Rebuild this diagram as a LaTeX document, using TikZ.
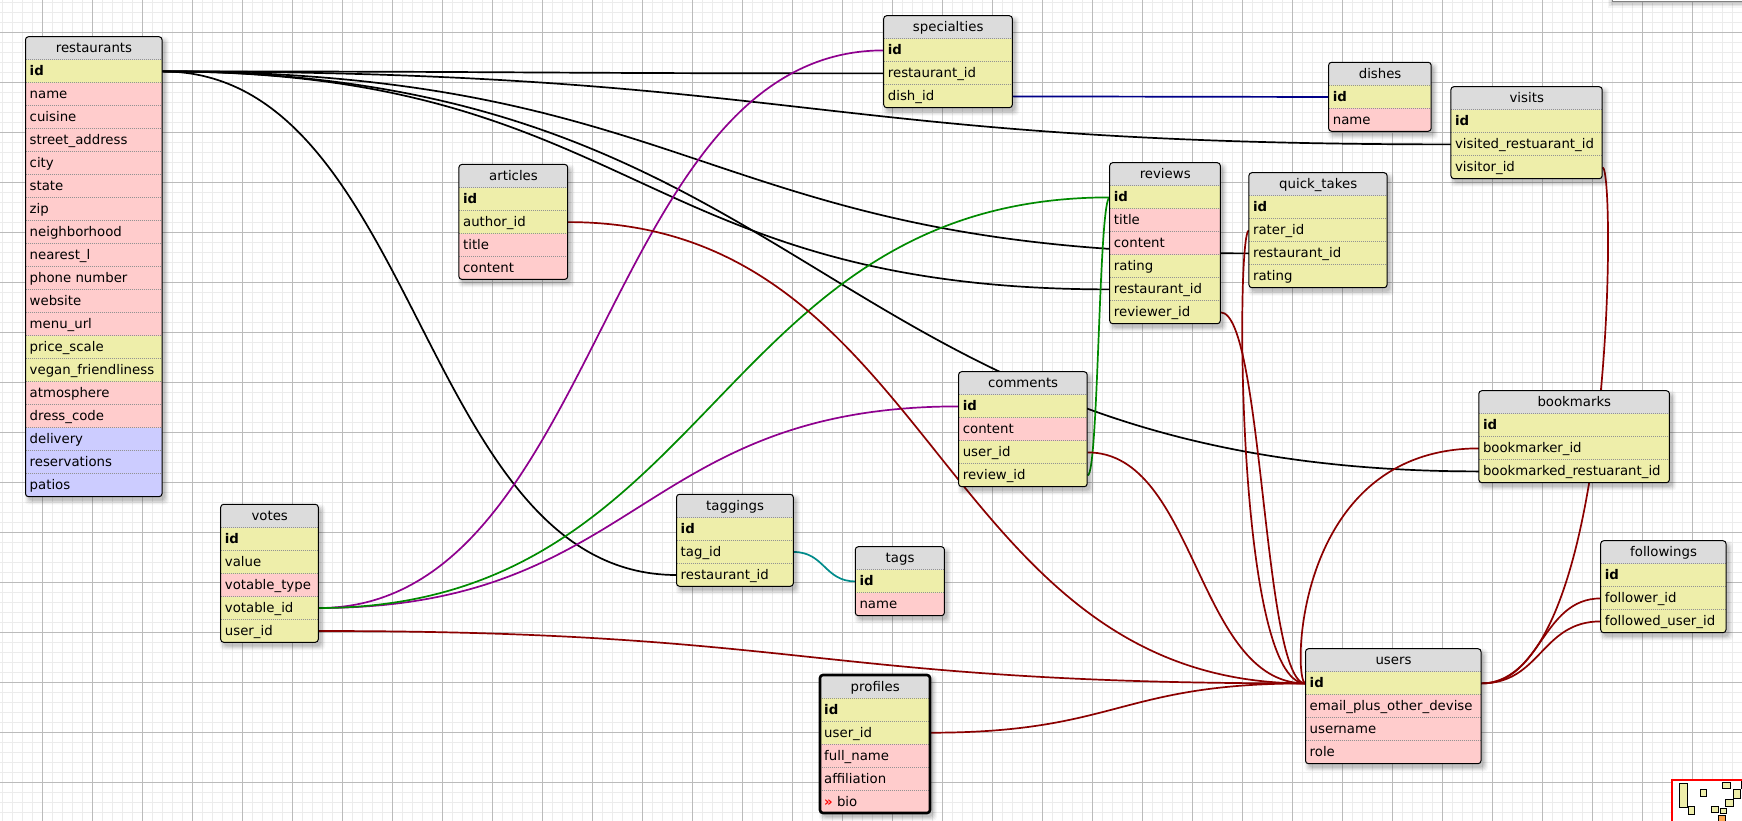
\documentclass[tikz,border=0pt]{standalone}
\usepackage{fontspec}
\setmainfont{DejaVu Sans}
\usetikzlibrary{calc}
\pgfdeclarelayer{bg}
\pgfdeclarelayer{lines}
\pgfsetlayers{bg,lines,main}
\definecolor{colY}{HTML}{EEEEAA}
\definecolor{colP}{HTML}{FFCCCC}
\definecolor{colB}{HTML}{CCCCFF}
\definecolor{colH}{HTML}{DCDCDC}
\definecolor{gridfine}{HTML}{ECECEC}
\definecolor{gridmid}{HTML}{BBBBBB}
\definecolor{relred}{HTML}{8B0000}
\definecolor{relpurple}{HTML}{8E008E}
\definecolor{relgreen}{HTML}{008A00}
\definecolor{relnavy}{HTML}{000088}
\definecolor{relteal}{HTML}{008B8B}
\newcommand\tabfont{\fontsize{13.3}{15}\selectfont}
\tikzset{
 hdr/.style={fill=colH, minimum height=23pt, inner sep=0pt, anchor=north west},
 rowc/.style={minimum height=23pt, inner sep=0pt, anchor=north west},
 sep/.style={draw=gray!85, line width=0.7pt, dash pattern=on 1pt off 1pt},
 frame/.style={draw=black, line width=1pt, rounded corners=3pt},
 rel/.style={line width=1.7pt},
 lbl/.style={font=\tabfont, inner sep=0pt},
 mini/.style={draw=black, fill=colY, line width=0.7pt},
}
% #1 prefix, #2 title, #3 x, #4 y, #5 width, #6 rows, #7 row list
\newcommand\dbtable[7]{%
  \pgfmathsetmacro\tblh{23*(#6+1)}%
  \foreach \shs/\sho in {8/0.03,6/0.04,4/0.05,2/0.06,0/0.07}{%
    \fill[black,opacity=\sho,rounded corners=4pt] ({#3+3-\shs/2},{#4+4-\shs/2}) rectangle ++({#5+\shs},{\tblh+\shs});}
  \begin{scope}
    \clip[rounded corners=3pt] (#3,#4) rectangle ++(#5,\tblh);
    \node[hdr, minimum width=#5pt] (#1) at (#3,#4) {};
    \node[lbl, anchor=base] (#1-title) at ($(#1.center)+(0,4.5)$) {#2};
    \foreach \txt/\fc/\key [count=\i] in {#7}{%
      \node[rowc, fill=\fc, minimum width=#5pt] (#1-\key) at (#3,{#4+23*\i}) {};
      \node[lbl, anchor=base west] (#1-\key-t) at ($(#1-\key.west)+(4,4.5)$) {\txt};
      \draw[sep] (#3,{#4+23*\i}) -- ++(#5,0);
    }
  \end{scope}
  \draw[frame] (#3,#4) rectangle ++(#5,\tblh);
}
\newcommand\conn[3]{%
  \coordinate (mid) at ($(#2)!.5!(#3)$);
  \draw[rel,#1] (#2) .. controls (mid |- #2) and (mid |- #3) .. (#3);
}
\newcommand\connx[4]{%
  \draw[rel,#1] (#2) .. controls (#4 |- #2) and (#4 |- #3) .. (#3);
}
\begin{document}
\begin{tikzpicture}[x=1pt,y=-1pt]
\useasboundingbox (0,0) rectangle (1742,821);
\begin{pgfonlayer}{bg}
\fill[white] (0,0) rectangle (1742,821);
\foreach \k in {0,...,174} \draw[gridfine, line width=0.9pt] ({2.3+10*\k},0) -- ++(0,821);
\foreach \k in {0,...,82} \draw[gridfine, line width=0.9pt] (0,{2.3+10*\k}) -- ++(1742,0);
\foreach \k in {0,...,34} \draw[gridmid, line width=1pt] ({42.3+50*\k},0) -- ++(0,821);
\foreach \k in {0,...,15} \draw[gridmid, line width=1pt] (0,{32.3+50*\k}) -- ++(1742,0);
\end{pgfonlayer}

% top-right panel
\foreach \shs/\sho in {8/0.04,5/0.06,2/0.08}{%
  \fill[black,opacity=\sho] ({1611.7-\shs/2},-20) rectangle ({1760},{4+\shs/2});}
\draw[fill=white, draw=gray] (1611.7,-20) rectangle (1760,1.5);

\dbtable{rest}{restaurants}{25.5}{36.7}{136.5}{19}{{\bfseries id}/colY/id, name/colP/name, cuisine/colP/cuisine, street\_address/colP/street, city/colP/city, state/colP/state, zip/colP/zip, neighborhood/colP/nbh, nearest\_l/colP/nearest, phone number/colP/phone, website/colP/web, menu\_url/colP/menu, price\_scale/colY/price, vegan\_friendliness/colY/vegan, atmosphere/colP/atm, dress\_code/colP/dress, delivery/colB/deliv, reservations/colB/resv, patios/colB/patios}
\dbtable{art}{articles}{458.9}{164.4}{108.8}{4}{{\bfseries id}/colY/id, author\_id/colY/author, title/colP/title, content/colP/content}
\dbtable{spec}{specialties}{883.7}{15.7}{128.6}{3}{{\bfseries id}/colY/id, restaurant\_id/colY/restid, dish\_id/colY/dish}
\dbtable{dishes}{dishes}{1328.6}{62.3}{102.6}{2}{{\bfseries id}/colY/id, name/colP/name}
\dbtable{visits}{visits}{1450.9}{86.7}{151.3}{3}{{\bfseries id}/colY/id, visited\_restuarant\_id/colY/vrid, visitor\_id/colY/visitor}
\dbtable{rev}{reviews}{1109.7}{162.7}{110.6}{6}{{\bfseries id}/colY/id, title/colP/title, content/colP/content, rating/colY/rating, restaurant\_id/colY/restid, reviewer\_id/colY/reviewer}
\dbtable{qt}{quick\_takes}{1248.9}{172.7}{138.2}{4}{{\bfseries id}/colY/id, rater\_id/colY/rater, restaurant\_id/colY/restid, rating/colY/rating}
\dbtable{com}{comments}{958.6}{371.7}{128.6}{4}{{\bfseries id}/colY/id, content/colP/content, user\_id/colY/uid, review\_id/colY/revid}
\dbtable{bm}{bookmarks}{1478.8}{390.7}{190.6}{3}{{\bfseries id}/colY/id, bookmarker\_id/colY/bmer, bookmarked\_restuarant\_id/colY/brid}
\dbtable{votes}{votes}{220.7}{504.3}{97.6}{5}{{\bfseries id}/colY/id, value/colY/value, votable\_type/colP/vtype, votable\_id/colY/vid, user\_id/colY/uid}
\dbtable{tg}{taggings}{676.5}{494.3}{116.8}{3}{{\bfseries id}/colY/id, tag\_id/colY/tagid, restaurant\_id/colY/restid}
\dbtable{tags}{tags}{855.3}{546.7}{89.1}{2}{{\bfseries id}/colY/id, name/colP/name}
\dbtable{fol}{followings}{1600.7}{540.7}{125.3}{3}{{\bfseries id}/colY/id, follower\_id/colY/follower, followed\_user\_id/colY/followed}
\dbtable{users}{users}{1305.5}{648.7}{175.5}{4}{{\bfseries id}/colY/id, email\_plus\_other\_devise/colP/email, username/colP/username, role/colP/role}
\dbtable{prof}{profiles}{820}{675}{110}{5}{{\bfseries id}/colY/id, user\_id/colY/uid, full\_name/colP/fullname, affiliation/colP/affil, {\textcolor{red}{\bfseries »}\ bio}/colP/bio}
\draw[frame, line width=2.6pt] (820,675) rectangle ++(110,138);

\begin{pgfonlayer}{lines}
% restaurants
\conn{black}{rest-id.east}{spec-restid.west}
\conn{black}{rest-id.east}{visits-vrid.west}
\conn{black}{rest-id.east}{rev-restid.west}
\conn{black}{rest-id.east}{qt-restid.west}
\conn{black}{rest-id.east}{bm-brid.west}
\conn{black}{rest-id.east}{tg-restid.west}
% dishes, tags
\conn{relnavy}{spec-dish.east}{dishes-id.west}
\conn{relteal}{tg-tagid.east}{tags-id.west}
% votables
\conn{relpurple}{votes-vid.east}{spec-id.west}
\conn{relpurple}{votes-vid.east}{com-id.west}
\conn{relgreen}{votes-vid.east}{rev-id.west}
\conn{relgreen}{com-revid.east}{rev-id.west}
% users
\conn{relred}{votes-uid.east}{users-id.west}
\conn{relred}{art-author.east}{users-id.west}
\conn{relred}{prof-uid.east}{users-id.west}
\conn{relred}{com-uid.east}{users-id.west}
\conn{relred}{rev-reviewer.east}{users-id.west}
\conn{relred}{fol-follower.west}{users-id.east}
\conn{relred}{fol-followed.west}{users-id.east}
\coordinate (qtx) at ($(qt-rater.west)+(-13,0)$);
\connx{relred}{qt-rater.west}{users-id.west}{qtx}
\coordinate (bmx) at ($(users-id.west)+(-13,0)$);
\connx{relred}{bm-bmer.west}{users-id.west}{bmx}
\coordinate (vix) at ($(visits-visitor.east)+(13,0)$);
\connx{relred}{visits-visitor.east}{users-id.east}{vix}
\end{pgfonlayer}

% minimap
\fill[white] (1671.7,779.7) rectangle (1760,830);
\draw[mini] (1679.3,783.3) rectangle (1687.7,807.3);
\draw[mini] (1688.3,806.7) rectangle (1694.3,814.3);
\draw[mini] (1700.3,789.3) rectangle (1706.3,796.3);
\draw[mini] (1722.7,782.3) rectangle (1730,788.3);
\draw[mini] (1733.3,789.3) rectangle (1740.7,798.3);
\draw[mini] (1741.5,781) rectangle (1748,788);
\draw[mini] (1725.3,799.3) rectangle (1733,806);
\draw[mini] (1711.3,806.3) rectangle (1718.7,812.3);
\draw[mini] (1720.3,808.3) rectangle (1726.7,813.3);
\draw[mini, fill=orange!70] (1718.7,815) rectangle (1725.3,823);
\draw[red, line width=2.4pt] (1671.7,779.7) rectangle (1760,830);
\end{tikzpicture}
\end{document}
